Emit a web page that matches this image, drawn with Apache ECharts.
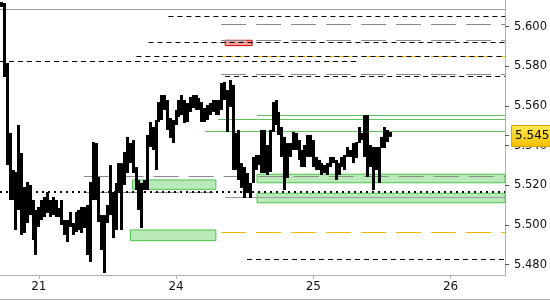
<!DOCTYPE html>
<html>
<head>
<meta charset="utf-8">
<script src="https://cdn.jsdelivr.net/npm/echarts@6/dist/echarts.min.js"></script>
<style>html,body{margin:0;padding:0;background:#fff}#c{width:550px;height:300px}</style>
</head>
<body>
<div id="c"></div>
<script>
// ---- data ----
const dayLabels = ['21', '24', '25', '26'];
const dayTicks = [0, 1, 2, 3];
const priceTicks = [5.48, 5.50, 5.52, 5.54, 5.56, 5.58, 5.60];
const lastPrice = 5.545;
const firstSlot = -13;      // first 30-minute bar, counted from the start of day "21"
const slotsPerDay = 48;
const highs = [
  5.6124, 5.6119, 5.5817, 5.5464, 5.5277, 5.5267, 5.5504, 5.5363, 5.5192, 5.5217, 5.5202, 5.5126, 5.5076,
  5.5091, 5.5126, 5.5141, 5.5166, 5.5126, 5.5141, 5.5126, 5.5086, 5.5126, 5.5025, 5.5025, 5.5066, 5.5010,
  5.5066, 5.5076, 5.5091, 5.5091, 5.5101, 5.5217, 5.5418, 5.5413, 5.5242, 5.5050, 5.5050, 5.5101, 5.5302,
  5.5166, 5.5212, 5.5312, 5.5312, 5.5368, 5.5444, 5.5413, 5.5428, 5.5292, 5.5227, 5.5212, 5.5227, 5.5454,
  5.5519, 5.5494, 5.5529, 5.5620, 5.5655, 5.5655, 5.5630, 5.5539, 5.5529,
  5.5580, 5.5630, 5.5655, 5.5630, 5.5615, 5.5645, 5.5655, 5.5655, 5.5640, 5.5620, 5.5590, 5.5605, 5.5615,
  5.5630, 5.5630, 5.5630, 5.5716, 5.5721, 5.5680, 5.5731, 5.5706, 5.5464, 5.5479, 5.5312, 5.5292, 5.5262,
  5.5212, 5.5343, 5.5353, 5.5353, 5.5479, 5.5479, 5.5403, 5.5479, 5.5620, 5.5630, 5.5570, 5.5494, 5.5444,
  5.5413, 5.5413, 5.5469, 5.5464, 5.5428, 5.5378, 5.5403, 5.5454, 5.5454,
  5.5428, 5.5343, 5.5328, 5.5312, 5.5302, 5.5312, 5.5343, 5.5343, 5.5328, 5.5312, 5.5343, 5.5353, 5.5393,
  5.5378, 5.5413, 5.5418, 5.5494, 5.5464, 5.5554, 5.5554, 5.5403, 5.5393, 5.5393, 5.5393, 5.5444, 5.5494,
  5.5479, 5.5469
];
const lows = [
  5.6099, 5.5746, 5.5302, 5.5126, 5.5126, 5.4975, 5.5076, 5.4950, 5.4960, 5.5010, 5.5050, 5.4924, 5.4849,
  5.4990, 5.5025, 5.5040, 5.5061, 5.5040, 5.5050, 5.5040, 5.5040, 5.5000, 5.4950, 5.4914, 5.4990, 5.4950,
  5.4965, 5.4975, 5.4960, 5.4985, 5.4849, 5.4814, 5.5126, 5.5126, 5.5015, 5.4874, 5.4758, 5.5010, 5.5050,
  5.4934, 5.4975, 5.5161, 5.4975, 5.5202, 5.5262, 5.5312, 5.5262, 5.5176, 5.5076, 5.4985, 5.5176, 5.5176,
  5.5393, 5.5378, 5.5277, 5.5519, 5.5529, 5.5580, 5.5479, 5.5439, 5.5413,
  5.5504, 5.5544, 5.5554, 5.5514, 5.5519, 5.5570, 5.5590, 5.5580, 5.5580, 5.5519, 5.5519, 5.5529, 5.5554,
  5.5570, 5.5554, 5.5554, 5.5580, 5.5630, 5.5469, 5.5595, 5.5277, 5.5277, 5.5227, 5.5187, 5.5136, 5.5161,
  5.5136, 5.5212, 5.5277, 5.5302, 5.5262, 5.5262, 5.5252, 5.5267, 5.5469, 5.5504, 5.5454, 5.5343, 5.5176,
  5.5237, 5.5343, 5.5378, 5.5378, 5.5328, 5.5292, 5.5292, 5.5343, 5.5343,
  5.5292, 5.5277, 5.5277, 5.5252, 5.5262, 5.5252, 5.5292, 5.5312, 5.5227, 5.5252, 5.5292, 5.5277, 5.5343,
  5.5343, 5.5312, 5.5338, 5.5413, 5.5428, 5.5343, 5.5242, 5.5292, 5.5176, 5.5277, 5.5212, 5.5388, 5.5388,
  5.5418, 5.5444
];
// horizontal levels: price, start (days), end (days, null = right edge)
const blackDashed = [[5.6053, 0.944, null], [5.5921, 0.799, null], [5.5850, 0.711, null], [5.5825, -0.283, 2.330], [5.5751, 1.358, null], [5.4827, 1.517, null]];
const grayDashed = [[5.6012, 1.328, null], [5.5930, 1.328, null], [5.5761, 1.328, null], [5.5247, 0.327, null], [5.5165, 0.327, 1.290]];
const orangeDashed = [[5.5850, 1.328, null], [5.4965, 1.328, null]];
const graySolid = [[5.6089, -0.283, null], [5.5140, 1.358, null]];
const greenSolid = [[5.5554, 1.590, null], [5.5534, 1.307, null], [5.5474, 1.212, null]];
const blackDotted = [[5.5168, -0.283, null]];
// zones: start, end (null = right edge), top, bottom
const greenZones = [[0.682, 1.290, 5.5227, 5.5180], [0.668, 1.290, 5.4975, 5.4921], [1.590, null, 5.5256, 5.5213], [1.590, null, 5.5160, 5.5112]];
const redZones = [[1.358, 1.554, 5.5931, 5.5904]];

// ---- chart ----
const xMin = -0.2831, xMax = 3.3975, yMin = 5.4748, yMax = 5.6134;
const bars = highs.map((h, i) => [(firstSlot + i) / slotsPerDay, h, lows[i]]);

function lines(arr, style) {
  return arr.map(([y, x0, x1]) => [
    { coord: [x0, y], lineStyle: style },
    { coord: [x1 == null ? xMax : x1, y] }
  ]);
}
function zones(arr, style) {
  return arr.map(([x0, x1, y0, y1]) => [
    { coord: [x0, y0], itemStyle: style },
    { coord: [x1 == null ? xMax : x1, y1] }
  ]);
}

const chart = echarts.init(document.getElementById('c'), null, { renderer: 'canvas' });
const font = 'DejaVu Sans';
chart.setOption({
  animation: false,
  backgroundColor: '#fff',
  grid: { left: 0, top: 0, right: 43, bottom: 25 },
  xAxis: {
    type: 'value', min: xMin, max: xMax,
    splitLine: { show: false },
    axisLine: { onZero: false, lineStyle: { color: '#b0b0b0' } },
    axisTick: { customValues: dayTicks, length: 4, lineStyle: { color: '#b0b0b0' } },
    axisLabel: {
      customValues: dayTicks, margin: 6, color: '#111', fontFamily: font, fontSize: 12,
      formatter: v => dayLabels[dayTicks.indexOf(Math.round(v))]
    }
  },
  yAxis: {
    type: 'value', position: 'right', min: yMin, max: yMax, scale: true,
    splitLine: { show: false },
    axisLine: { show: true, onZero: false, lineStyle: { color: '#b0b0b0' } },
    axisTick: { customValues: priceTicks.concat([lastPrice]), length: 4, lineStyle: { color: '#555' } },
    axisLabel: {
      customValues: priceTicks, margin: 9, color: '#111', fontFamily: font, fontSize: 11.5,
      formatter: v => v.toFixed(3)
    }
  },
  series: [
    {
      type: 'line', data: [], z: 1, silent: true,
      markArea: {
        silent: true,
        data: zones(greenZones, { color: 'rgba(140,220,140,0.6)', borderColor: '#4cc24c', borderWidth: 1 })
          .concat(zones(redZones, { color: 'rgba(240,120,120,0.7)', borderColor: '#e00000', borderWidth: 1 }))
      }
    },
    {
      type: 'line', data: [], z: 2, silent: true,
      markLine: {
        silent: true, symbol: 'none', label: { show: false }, emphasis: { disabled: true },
        data: []
          .concat(lines(graySolid, { color: '#9a9a9a', type: 'solid', width: 1 }))
          .concat(lines(grayDashed, { color: '#8a8a8a', type: [25, 10], width: 1 }))
          .concat(lines(orangeDashed, { color: '#f7b500', type: [25, 10], width: 1 }))
          .concat(lines(blackDashed, { color: '#000', type: [5, 4], width: 1 }))
          .concat(lines(greenSolid, { color: '#5cc35c', type: 'solid', width: 1 }))
          .concat(lines(blackDotted, { color: '#000', type: [2, 4], width: 2 }))
      }
    },
    {
      type: 'custom', z: 5, clip: true,
      data: bars,
      encode: { x: 0, y: [1, 2] },
      renderItem: function (params, api) {
        const p1 = api.coord([api.value(0), api.value(1)]);
        const p2 = api.coord([api.value(0), api.value(2)]);
        return {
          type: 'rect',
          shape: { x: Math.round(p1[0] - 1.5), y: p1[1], width: 3, height: Math.max(p2[1] - p1[1], 2) },
          style: { fill: '#000' }
        };
      }
    }
  ],
  graphic: [{
    type: 'line', shape: { x1: 0, y1: 299.5, x2: 550, y2: 299.5 },
    style: { stroke: '#b0b0b0', lineWidth: 1 }, silent: true
  }]
});

// last-price marker placed through the value axis
const py = chart.convertToPixel({ yAxisIndex: 0 }, lastPrice);
const axisX = chart.convertToPixel({ xAxisIndex: 0 }, xMax);
chart.setOption({
  graphic: [
    {
      type: 'line', shape: { x1: 0, y1: 299.5, x2: 550, y2: 299.5 },
      style: { stroke: '#b0b0b0', lineWidth: 1 }, silent: true
    },
    {
      type: 'rect', z: 100, silent: true,
      shape: { x: axisX + 6.5, y: Math.round(py) - 10.5, width: 40, height: 21 },
      style: {
        fill: new echarts.graphic.LinearGradient(0, 0, 0, 1, [
          { offset: 0, color: '#ffea55' }, { offset: 1, color: '#f3be00' }
        ]),
        stroke: '#d6a400', lineWidth: 1
      }
    },
    {
      type: 'text', z: 101, silent: true,
      x: axisX + 10, y: py,
      style: {
        text: lastPrice.toFixed(3), fill: '#000', font: '12px "DejaVu Sans"',
        align: 'left', verticalAlign: 'middle'
      }
    }
  ]
});
</script>
</body>
</html>
